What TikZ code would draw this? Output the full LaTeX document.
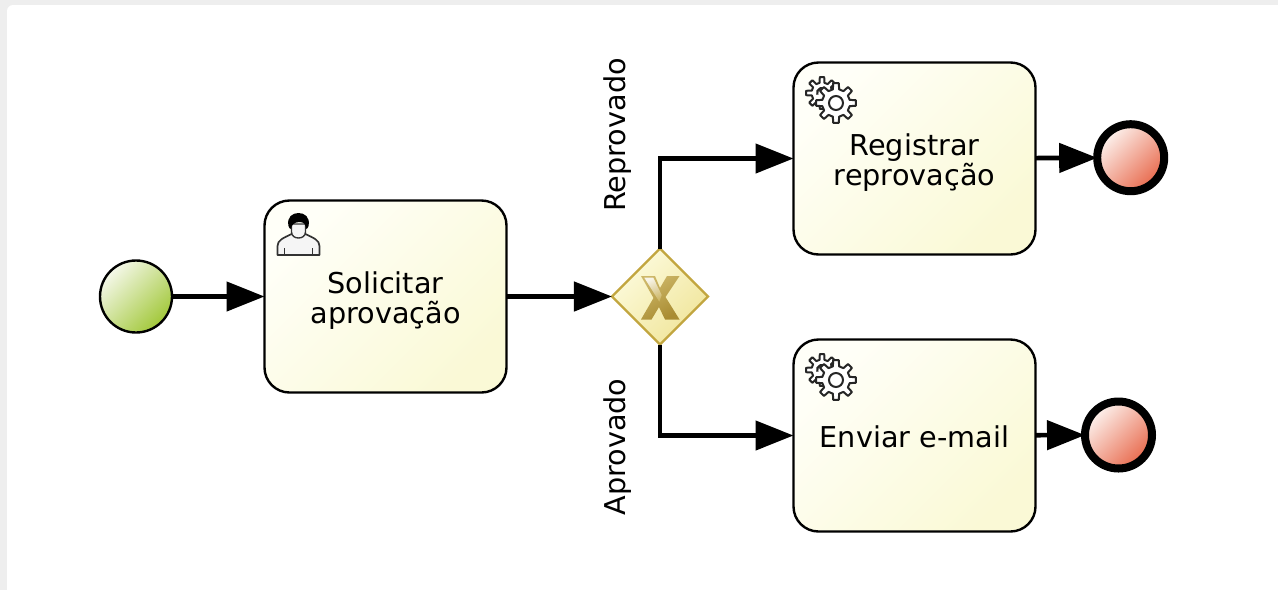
\documentclass[tikz,border=0pt]{standalone}
\usepackage{fontspec}
\setmainfont{DejaVu Sans}
\usetikzlibrary{arrows.meta,shapes.geometric,calc}
\definecolor{taskA}{HTML}{FFFFF8}
\definecolor{taskB}{HTML}{FAF9D6}
\definecolor{startA}{HTML}{F5F8EA}
\definecolor{startB}{HTML}{A2C83A}
\definecolor{endA}{HTML}{FDF4F0}
\definecolor{endB}{HTML}{E8694C}
\definecolor{gwLine}{HTML}{C2A63F}
\definecolor{gwA}{HTML}{FDFBDD}
\definecolor{gwB}{HTML}{F0E59A}
\definecolor{xA}{HTML}{CDB768}
\definecolor{xB}{HTML}{A98C32}
\definecolor{pageGrey}{HTML}{EEEEEE}
\tikzset{
  x=1pt,y=-1pt,
  task/.style={draw=black,line width=2.4pt,rounded corners=25pt,minimum width=242pt,minimum height=192pt,
    inner sep=0pt,outer sep=0pt,
    shading=axis,top color=taskA,bottom color=taskB,shading angle=45},
  tasktext/.style={font=\fontsize{28.7}{30}\selectfont,align=center,inner sep=0pt},
  startev/.style={circle,draw=black,line width=2.4pt,minimum size=72pt,inner sep=0pt,outer sep=0pt,
    shading=axis,top color=startA,bottom color=startB,shading angle=45},
  endev/.style={circle,draw=black,line width=8pt,minimum size=67pt,inner sep=0pt,outer sep=0pt,
    shading=axis,top color=endA,bottom color=endB,shading angle=45},
  gateway/.style={diamond,draw=gwLine,line width=2.2pt,minimum width=96pt,minimum height=96pt,aspect=1,inner sep=0pt,outer sep=0pt,
    shading=axis,top color=gwA,bottom color=gwB,shading angle=45},
  flow/.style={line width=4.6pt,-{Triangle[length=38pt,width=29pt]}},
  lab/.style={rotate=90,font=\fontsize{28.7}{30}\selectfont,inner sep=0pt,outer sep=0pt},
  gearicon/.pic={
    \filldraw[draw=black!85,fill=white,line width=2pt,line join=round]
      ($(-14,-10)+(-13:10.5)$) \foreach \a in {0,45,...,315}{
        -- ($(-14,-10)+(\a-13:10.5)$) -- ($(-14,-10)+(\a-8:16)$) -- ($(-14,-10)+(\a+8:16)$) -- ($(-14,-10)+(\a+13:10.5)$)
      } -- cycle;
    \draw[black!85,line width=2.2pt] (-14,-10) ++(160:5) arc[start angle=160,end angle=320,radius=5];
    \filldraw[draw=black!85,fill=white,line width=2pt,line join=round]
      (-13:14) \foreach \a in {0,45,...,315}{
        -- (\a-13:14) -- (\a-8:20) -- (\a+8:20) -- (\a+13:14)
      } -- cycle;
    \filldraw[draw=black!85,fill=white,line width=2pt] (0,0) circle[radius=7];
  },
  usericon/.pic={
    \filldraw[draw=black!80,fill=white!96!black,line width=1.7pt,line join=round]
      (-21,21) -- (-21,12) .. controls (-21,6) and (-15,4) .. (-7,0) -- (7,0) .. controls (15,4) and (21,6) .. (21,12) -- (21,21) -- cycle;
    \draw[black!80,line width=1.5pt] (-14,21) -- (-14,14) (14,21) -- (14,14);
    \filldraw[draw=black!80,fill=white!96!black,line width=1.4pt]
      (-7,-10) -- (-7,-2) .. controls (-7,6) and (7,6) .. (7,-2) -- (7,-10) -- cycle;
    \fill[black] (-10,-8) .. controls (-12,-17) and (-6,-21) .. (0,-21) .. controls (6,-21) and (12,-17) .. (10,-8)
      .. controls (9.5,-6) and (8.5,-5) .. (7.5,-5) .. controls (7.5,-9) and (6,-12) .. (1,-12) .. controls (-4,-12) and (-7.5,-9) .. (-7.5,-5)
      .. controls (-8.5,-5) and (-9.5,-6) .. (-10,-8) -- cycle;
  },
}
\begin{document}
\begin{tikzpicture}
\useasboundingbox (0,0) rectangle (1278,590);
\fill[pageGrey] (0,0) rectangle (1278,590);
\fill[white,rounded corners=6pt] (7,5) -- (1290,5) -- (1290,600) -- (7,600) -- cycle;

\node[startev] (start) at (136,296.5) {};
\node[task] (t1) at (385.5,296.5) {};
\node[gateway] (gw) at (660,296.5) {};
\node[task] (t2) at (914.5,158.5) {};
\node[task] (t3) at (914.5,435.5) {};
\node[endev] (e1) at (1130.7,157.7) {};
\node[endev] (e2) at (1118.5,435) {};

\node[tasktext] (t1text) at ([yshift=-4.5pt]t1.center) {Solicitar\\aprovação};
\node[tasktext] (t2text) at ([yshift=-4pt]t2.center) {Registrar\\reprovação};
\node[tasktext] (t3text) at ([yshift=-1.5pt]t3.center) {Enviar e-mail};

\node[lab] (lr) at (618,135) {Reprovado};
\node[lab] (la) at (618,447) {Aprovado};

\draw[flow] (start) -- (t1);
\draw[flow] (t1) -- (gw);
\draw[flow] (gw.north) |- (t2.west);
\draw[flow] (gw.south) |- (t3.west);
\draw[flow] (t2) -- (e1);
\draw[flow] (t3) -- (e2);

\shade[shading=axis,top color=xA,bottom color=xB,shading angle=30]
  (641,276) -- (655,276) -- (660,288) -- (667,276) -- (679.5,276) -- (665.5,297) -- (679.5,319.5) -- (665,319.5) -- (659,307) -- (651.5,319.5) -- (641,319.5) -- (653.5,298) -- cycle;
\shade[shading=axis,top color=white!85!xA,bottom color=xA,shading angle=25]
  (644.3,277.7) -- (653.3,277.7) -- (661.7,295) -- (659.3,301.7) -- cycle;

\pic at (298.5,234) {usericon};
\pic at (836,103) {gearicon};
\pic at (836,380) {gearicon};
\end{tikzpicture}
\end{document}
